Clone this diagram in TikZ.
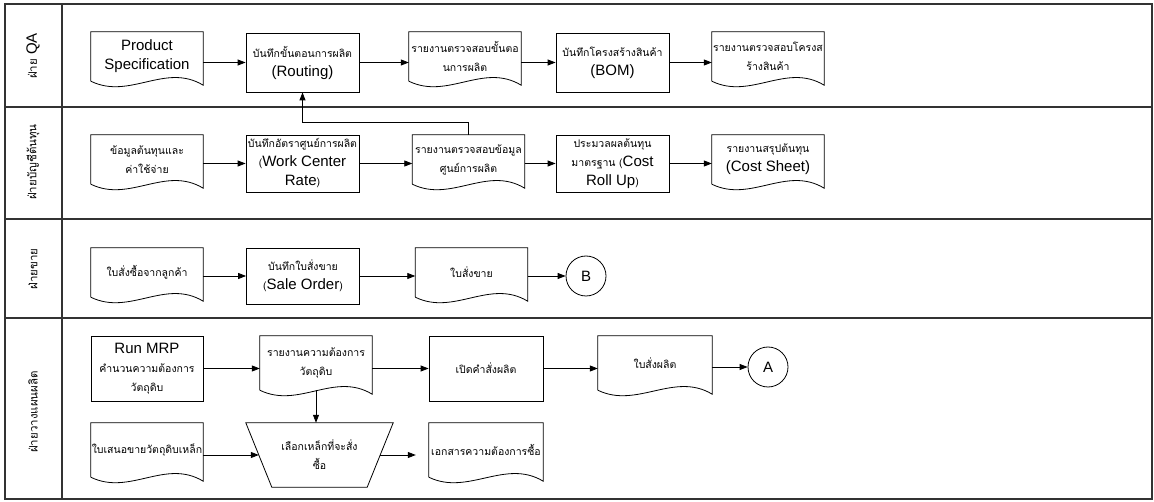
\documentclass[tikz,border=0pt]{standalone}
\usepackage{fontspec}
\setmainfont{Liberation Sans}
\newfontfamily\thaifont[Script=Thai]{Loma}
\usetikzlibrary{arrows.meta,calc}

\newcommand{\tsmall}[1]{{\thaifont\fontsize{10.5}{19}\selectfont #1}}
\newcommand{\tlane}[1]{{\thaifont\fontsize{11.5}{19}\selectfont #1}}
\newcommand{\docline}[1]{\draw [docedge] (#1.south west) -- (#1.north west) -- (#1.north east) -- ($(#1.south east)+(0,-4)$) .. controls ($(#1.south east)+(-38,19)$) and ($(#1.south west)+(39,-19)$) .. (#1.south west);}
\newcommand{\trapline}[1]{\draw [docedge] (#1.north west) -- (#1.north east) -- ($(#1.south east)+(-26,0)$) -- ($(#1.south west)+(26,0)$) -- cycle;}

\begin{document}
\begin{tikzpicture}[x=1pt,y=1pt]
    \tikzstyle{every node}+=[inner sep=0pt, font=\fontsize{15}{19}\selectfont]
    \tikzstyle{docedge}=[black, line width=0.8pt]
    \tikzstyle{procbox}=[draw, black, line width=0.8pt, align=center, minimum width=113pt, minimum height=59pt]
    \tikzstyle{docbox}=[align=center, minimum width=112pt, minimum height=49pt]
    \tikzstyle{circ}=[circle, draw, black, line width=0.8pt, minimum size=40pt]
    \tikzstyle{arr}=[black, line width=0.8pt, -{Triangle[length=8pt,width=6pt]}]
    \tikzstyle{lane}=[black!80, line width=1.3pt]
    \useasboundingbox (0,0) rectangle (1154,-502);
    % lanes
    \draw [lane] (5,-4) rectangle (1152,-499);
    \draw [lane] (62,-4) -- (62,-499);
    \draw [lane] (5,-107) -- (1152,-107);
    \draw [lane] (5,-219) -- (1152,-219);
    \draw [lane] (5,-318) -- (1152,-318);
    \node [rotate=90] (lqa) at (33,-56) {\tlane{ฝ่าย} QA};
    \node [rotate=90] (lcost) at (33,-162) {\tlane{ฝ่ายบัญชีต้นทุน}};
    \node [rotate=90] (lsale) at (33,-269) {\tlane{ฝ่ายขาย}};
    \node [rotate=90] (lplan) at (33,-412) {\tlane{ฝ่ายวางแผนผลิต}};
    % QA
    \node [docbox] (qspec) at (147,-56.5) {Product\\Specification};
    \docline{qspec}
    \node [procbox] (qrout) at (302.5,-62.5) {\tsmall{บันทึกขั้นตอนการผลิต}\\(Routing)};
    \node [docbox] (qrep) at (465,-56.5) {\tsmall{รายงานตรวจสอบขั้นตอ}\\\tsmall{นการผลิต}};
    \docline{qrep}
    \node [procbox] (qbom) at (612.5,-62.5) {\tsmall{บันทึกโครงสร้างสินค้า}\\(BOM)};
    \node [docbox] (qbrep) at (768,-56.5) {\tsmall{รายงานตรวจสอบโครงส}\\\tsmall{ร้างสินค้า}};
    \docline{qbrep}
    \draw [arr] (qspec.east |- qrout.west) -- (qrout.west);
    \draw [arr] (qrout.east) -- (qrout.east -| qrep.west);
    \draw [arr] (qrep.east |- qbom.west) -- (qbom.west);
    \draw [arr] (qbom.east) -- (qbom.east -| qbrep.west);
    % cost
    \node [docbox] (cdata) at (147,-159.5) {\tsmall{ข้อมูลต้นทุนและ}\\\tsmall{ค่าใช้จ่าย}};
    \docline{cdata}
    \node [procbox, minimum height=57pt] (cwcr) at (302.5,-163.5) {\tsmall{บันทึกอัตราศูนย์การผลิต}\\\tsmall{(}Work Center\\Rate\tsmall{)}};
    \node [docbox] (crep) at (468.5,-159.5) {\tsmall{รายงานตรวจสอบข้อมูล}\\\tsmall{ศูนย์การผลิต}};
    \docline{crep}
    \node [procbox, minimum height=57pt] (croll) at (612.5,-163.5) {\tsmall{ประมวลผลต้นทุน}\\\tsmall{มาตรฐาน (}Cost\\Roll Up\tsmall{)}};
    \node [docbox] (csheet) at (768,-159.5) {\tsmall{รายงานสรุปต้นทุน}\\(Cost Sheet)};
    \docline{csheet}
    \draw [arr] (cdata.east |- cwcr.west) -- (cwcr.west);
    \draw [arr] (cwcr.east) -- (cwcr.east -| crep.west);
    \draw [arr] (crep.east |- croll.west) -- (croll.west);
    \draw [arr] (croll.east) -- (croll.east -| csheet.west);
    \draw [arr] (crep.north) -- ++(0,12) -| (qrout.south);
    % sales
    \node [docbox] (sorder) at (147,-272.5) {\tsmall{ใบสั่งซื้อจากลูกค้า}};
    \docline{sorder}
    \node [procbox, minimum height=56pt] (sso) at (303,-276) {\tsmall{บันทึกใบสั่งขาย}\\\tsmall{(}Sale Order\tsmall{)}};
    \node [docbox] (sdoc) at (471.5,-272.5) {\tsmall{ใบสั่งขาย}};
    \docline{sdoc}
    \node [circ] (sB) at (586,-276) {B};
    \draw [arr] (sorder.east |- sso.west) -- (sso.west);
    \draw [arr] (sso.east) -- (sso.east -| sdoc.west);
    \draw [arr] (sdoc.east |- sB.west) -- (sB.west);
    % planning
    \node [procbox, minimum height=65pt, minimum width=112pt] (pmrp) at (147,-368.5) {Run MRP\\\tsmall{คำนวนความต้องการ}\\\tsmall{วัตถุดิบ}};
    \node [docbox, minimum height=54pt] (preq) at (316,-363) {\tsmall{รายงานความต้องการ}\\\tsmall{วัตถุดิบ}};
    \docline{preq}
    \node [procbox, minimum height=65pt, minimum width=114pt] (pord) at (486,-368.5) {\tsmall{เปิดคำสั่งผลิต}};
    \node [docbox, minimum height=54pt, minimum width=114pt] (pdoc) at (655,-363) {\tsmall{ใบสั่งผลิต}};
    \docline{pdoc}
    \node [circ] (pA) at (768,-367) {A};
    \node [docbox, minimum height=54pt] (poffer) at (147,-450) {\tsmall{ใบเสนอขายวัตถุดิบเหล็ก}};
    \docline{poffer}
    \node [align=center, minimum width=147pt, minimum height=64pt] (psel) at (319.5,-455) {\tsmall{เลือกเหล็กที่จะสั่ง}\\\tsmall{ซื้อ}};
    \trapline{psel}
    \node [docbox, minimum height=54pt, minimum width=114pt] (ppr) at (486,-450) {\tsmall{เอกสารความต้องการซื้อ}};
    \docline{ppr}
    \draw [arr] (pmrp.east) -- (pmrp.east -| preq.west);
    \draw [arr] (preq.east |- pord.west) -- (pord.west);
    \draw [arr] (pord.east) -- (pord.east -| pdoc.west);
    \draw [arr] (pdoc.east |- pA.west) -- (pA.west);
    \draw [arr] (preq.south) -- (preq.south |- psel.north);
    \draw [arr] (poffer.east |- psel.west) -- ([xshift=13pt]psel.west);
    \draw [arr] ([xshift=-13pt]psel.east) -- ([xshift=-13pt]psel.east -| ppr.west);
\end{tikzpicture}
\end{document}
